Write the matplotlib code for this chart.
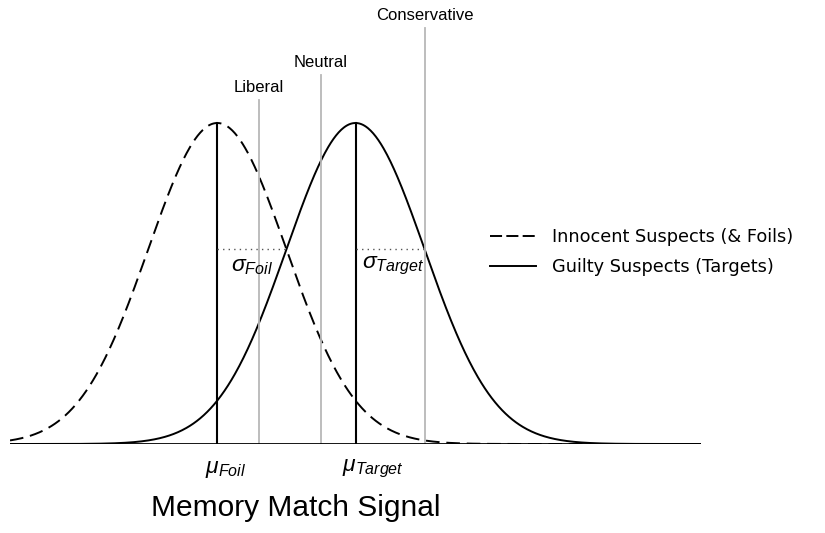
import numpy as np
import matplotlib.pyplot as plt
from matplotlib.lines import Line2D

plt.rcParams['font.family'] = ['Liberation Sans', 'DejaVu Sans']
plt.rcParams['mathtext.fontset'] = 'custom'
plt.rcParams['mathtext.it'] = 'Liberation Sans:italic'
plt.rcParams['mathtext.rm'] = 'Liberation Sans'

# signal detection setup (units of foil SD)
mu_foil = 0.0
mu_target = 2.0
sigma = 1.0
criteria = ["Liberal", "Neutral", "Conservative"]
criterion_x = [0.6, 1.5, 3.0]
criterion_top = [0.428, 0.459, 0.517]
x_range = [-3.0, 7.0]
legend_labels = ["Innocent Suspects (& Foils)", "Guilty Suspects (Targets)"]


def pdf(x, mu, s):
    return np.exp(-0.5 * ((x - mu) / s) ** 2) / (s * np.sqrt(2 * np.pi))


x = np.linspace(x_range[0], x_range[1], 800)
peak = pdf(0, 0, sigma)
one_sd = pdf(sigma, 0, sigma)

fig = plt.figure(figsize=(8.25, 5.33), dpi=100)
ax = fig.add_axes([10 / 825, 89 / 533, 691 / 825, 444 / 533])

ax.plot(x, pdf(x, mu_foil, sigma), color="black", lw=1.4, ls=(0, (7, 3.5)))
ax.plot(x, pdf(x, mu_target, sigma), color="black", lw=1.4)

# means + 1 SD markers
for m in [mu_foil, mu_target]:
    ax.plot([m, m], [0, peak], color="black", lw=1.5)
    ax.plot([m, m + sigma], [one_sd, one_sd], color="#555555", lw=1, ls=(0, (1, 3)))

# criteria
for name, cx, top in zip(criteria, criterion_x, criterion_top):
    ax.plot([cx, cx], [0, top], color="#b8b8b8", lw=1.3)
    ax.text(cx, top + 0.006, name, ha="center", va="bottom", fontsize=12)

ax.text(mu_foil + 0.2, one_sd - 0.006, r"$\sigma_{Foil}$", ha="left", va="top", fontsize=16.5)
ax.text(mu_target + 0.1, one_sd - 0.006, r"$\sigma_{Target}$", ha="left", va="top", fontsize=16.5)

ax.axhline(0, color="black", lw=2)
ax.set_xlim(x_range)
ax.set_ylim(0, peak * 444 / 321)
ax.axis("off")

fig.text(205 / 825, 1 - 469 / 533, r"$\mu_{Foil}$", ha="left", va="center", fontsize=16.5)
fig.text(342 / 825, 1 - 469 / 533, r"$\mu_{Target}$", ha="left", va="center", fontsize=16.5)
fig.text(296 / 825, 1 - 508 / 533, "Memory Match Signal", ha="center", va="center", fontsize=21.5)

handles = [
    Line2D([], [], color="black", lw=1.4, ls=(0, (6.2, 2.2))),
    Line2D([], [], color="black", lw=1.4),
]
fig.legend(handles, legend_labels,
           loc="center left", bbox_to_anchor=(490 / 825, 1 - 252 / 533), frameon=False,
           prop={"family": "DejaVu Sans", "size": 12.8},
           handlelength=2.6, handletextpad=0.9, labelspacing=0.7,
           borderpad=0, borderaxespad=0)

fig.savefig("out.png", dpi=100)
